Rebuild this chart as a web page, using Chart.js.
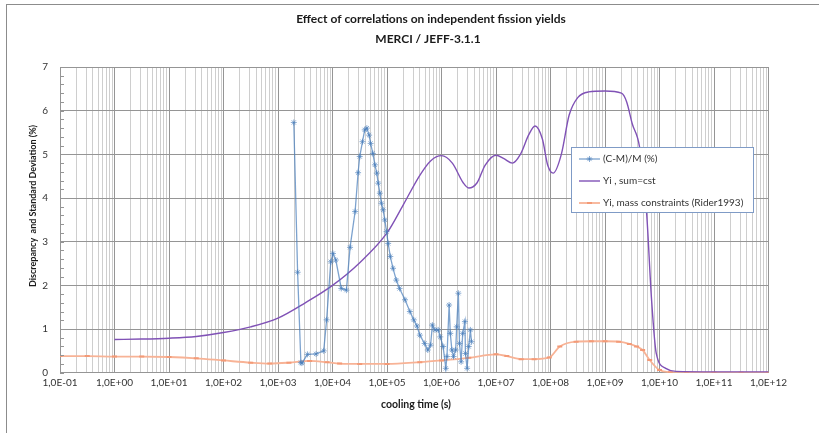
<!DOCTYPE html>
<html>
<head>
<meta charset="utf-8">
<script src="https://cdn.jsdelivr.net/npm/chart.js@4/dist/chart.umd.min.js"></script>
<style>
html,body{margin:0;padding:0;background:#fff;}
canvas{display:block;}
</style>
</head>
<body>
<canvas id="c" width="819" height="433"></canvas>
<script>
// ---- Data ----
const titleLines = ['Effect of correlations on independent fission yields', 'MERCI / JEFF-3.1.1'];
const xAxisTitle = 'cooling time (s)';
const yAxisTitle = 'Discrepancy  and Standard Deviation (%)';
const seriesNames = ['(C-M)/M (%)', 'Yi , sum=cst', 'Yi, mass constraints (Rider1993)'];
const xTickLabels = ['1,0E-01','1,0E+00','1,0E+01','1,0E+02','1,0E+03','1,0E+04','1,0E+05','1,0E+06','1,0E+07','1,0E+08','1,0E+09','1,0E+10','1,0E+11','1,0E+12'];
const yTickValues = [0,1,2,3,4,5,6,7];

const blueX = [1.95e3,2.29e3,2.63e3,2.75e3,3.47e3,5.0e3,6.9e3,7.8e3,9.3e3,1.02e4,1.15e4,1.45e4,1.8e4,2.1e4,2.6e4,2.95e4,3.16e4,3.55e4,3.9e4,4.27e4,4.7e4,5.0e4,5.5e4,6.0e4,6.5e4,6.9e4,7.4e4,7.9e4,8.5e4,9.1e4,9.8e4,1.05e5,1.15e5,1.29e5,1.48e5,1.7e5,2.14e5,2.63e5,3.1e5,3.55e5,4.0e5,4.9e5,5.6e5,6.3e5,6.8e5,7.6e5,8.7e5,9.5e5,1.07e6,1.2e6,1.26e6,1.38e6,1.45e6,1.55e6,1.66e6,1.82e6,1.9e6,2.04e6,2.14e6,2.29e6,2.45e6,2.69e6,2.75e6,2.95e6,3.16e6,3.39e6,3.55e6];
const blueY = [5.73,2.30,0.23,0.22,0.42,0.43,0.50,1.21,2.54,2.73,2.58,1.93,1.89,2.87,3.69,4.58,4.95,5.29,5.56,5.60,5.44,5.25,5.02,4.76,4.57,4.34,4.11,3.88,3.73,3.50,3.23,2.96,2.66,2.39,2.12,1.93,1.67,1.40,1.21,1.07,0.86,0.67,0.52,0.63,1.09,0.98,0.98,0.82,0.60,0.10,0.37,1.55,0.90,0.52,0.37,0.52,1.05,1.82,0.67,0.25,0.90,1.17,0.44,0.10,0.60,0.98,0.71];

const purpleX = [1,3.16,10,31.6,100,316,1000,3160,1e4,3.16e4,1e5,2.0e5,4.0e5,6.3e5,1e6,1.58e6,2.5e6,3.16e6,4.5e6,6.3e6,1e7,1.4e7,2e7,2.8e7,4e7,5.2e7,7.1e7,8.9e7,1.12e8,1.58e8,2.2e8,3.16e8,5e8,1e9,2e9,2.5e9,3.16e9,4.3e9,5.8e9,7.1e9,8.7e9,1.3e10,2e10,1e11,1e12];
const purpleY = [0.76,0.77,0.79,0.83,0.92,1.05,1.25,1.60,2.00,2.52,3.20,3.85,4.52,4.85,4.97,4.80,4.35,4.23,4.35,4.75,4.98,4.90,4.80,5.00,5.45,5.65,5.35,4.75,4.57,5.00,5.90,6.30,6.43,6.45,6.40,6.20,5.70,5.17,3.66,1.73,0.45,0.10,0.03,0.02,0.02];

const orangeX = [0.1,0.316,1,3.16,10,31.6,100,316,708,1585,3800,7940,1.35e4,3.16e4,1e5,4e5,1e6,3.16e6,1e7,1.58e7,2.9e7,5e7,9.5e7,1.48e8,2.95e8,5.6e8,1e9,1.78e9,2.8e9,3.8e9,4.9e9,6.6e9,1e10,1.58e10,3.16e10,1e11,3.16e11,1e12];
const orangeY = [0.38,0.38,0.37,0.37,0.36,0.33,0.28,0.23,0.21,0.23,0.27,0.24,0.21,0.20,0.20,0.24,0.28,0.34,0.42,0.38,0.31,0.31,0.35,0.60,0.71,0.72,0.72,0.71,0.66,0.60,0.52,0.29,0.06,0.01,0,0,0,0];

// ---- Styles ----
const FONT = 'Lato, "Open Sans", sans-serif';
const blueColor = 'rgba(74,126,187,0.72)';
const purpleColor = '#8052b6';
const orangeColor = '#f8b396';
const orangeMarker = '#f39a77';
const majorGrid = '#959595';
const minorGrid = '#cecece';

function pairs(xs, ys){ return xs.map((x,i)=>({x:x, y:ys[i]})); }
function isDecade(v){ const e = Math.round(Math.log10(v)); return Math.abs(v - Math.pow(10,e)) < 1e-6*v; }

Chart.defaults.font.family = FONT;

const decor = {
  id: 'decor',
  beforeDraw(chart){
    const ctx = chart.ctx;
    ctx.save();
    ctx.fillStyle = '#fff';
    ctx.fillRect(0,0,chart.width,chart.height);
    ctx.strokeStyle = '#8c8c8c';
    ctx.lineWidth = 1;
    ctx.strokeRect(6.5,4.5,900,500);
    ctx.restore();
  },
  afterDraw(chart){
    const ctx = chart.ctx;
    const ya = chart.scales.y, xa = chart.scales.x;
    ctx.save();
    // minor y ticks inside plot
    ctx.strokeStyle = majorGrid;
    ctx.lineWidth = 1;
    for (let i = 0; i <= 35; i++) {
      const py = Math.round(ya.getPixelForValue(i*0.2)) + 0.5;
      ctx.beginPath(); ctx.moveTo(xa.left, py); ctx.lineTo(xa.left + 4, py); ctx.stroke();
    }
    // main title
    ctx.fillStyle = '#1a1a1a';
    ctx.textAlign = 'center';
    ctx.textBaseline = 'middle';
    ctx.font = 'bold 12px ' + FONT;
    ctx.fillText(titleLines[0], 431, 19);
    ctx.fillText(titleLines[1], 428, 39);
    // axis titles
    ctx.font = 'bold 10.5px ' + FONT;
    ctx.fillText(xAxisTitle, 416, 405);
    ctx.font = 'bold 9px ' + FONT;
    ctx.save();
    ctx.translate(33, 206);
    ctx.rotate(-Math.PI/2);
    ctx.fillText(yAxisTitle, 0, 0);
    ctx.restore();
    // legend
    const lx = 571.5, ly = 147.5, lw = 182, lh = 65;
    ctx.fillStyle = '#fff';
    ctx.fillRect(lx, ly, lw, lh);
    ctx.strokeStyle = '#7f9bc6';
    ctx.lineWidth = 1;
    ctx.strokeRect(lx, ly, lw, lh);
    const rows = [159, 181, 203];
    const ds = chart.data.datasets;
    rows.forEach((ry, i) => {
      const d = ds[i];
      ctx.strokeStyle = d.borderColor;
      ctx.lineWidth = d.borderWidth;
      ctx.beginPath(); ctx.moveTo(579, ry); ctx.lineTo(600, ry); ctx.stroke();
      if (d.pointRadius > 0) {
        ctx.strokeStyle = d.pointBorderColor; ctx.lineWidth = d.pointBorderWidth;
        ctx.beginPath();
        const r = d.pointRadius;
        if (d.pointStyle === 'line') { ctx.moveTo(589.5 - r, ry); ctx.lineTo(589.5 + r, ry); }
        else {
          ctx.moveTo(589.5 - r, ry); ctx.lineTo(589.5 + r, ry);
          ctx.moveTo(589.5, ry - r); ctx.lineTo(589.5, ry + r);
          ctx.moveTo(589.5 - r*0.7, ry - r*0.7); ctx.lineTo(589.5 + r*0.7, ry + r*0.7);
          ctx.moveTo(589.5 - r*0.7, ry + r*0.7); ctx.lineTo(589.5 + r*0.7, ry - r*0.7);
        }
        ctx.stroke();
      }
      ctx.fillStyle = '#333';
      ctx.font = '10px ' + FONT;
      ctx.textAlign = 'left';
      ctx.textBaseline = 'middle';
      ctx.fillText(seriesNames[i], 603, ry);
    });
    ctx.restore();
  }
};

new Chart(document.getElementById('c'), {
  type: 'line',
  data: {
    datasets: [
      {
        label: seriesNames[0],
        data: pairs(blueX, blueY),
        borderColor: blueColor,
        backgroundColor: blueColor,
        borderWidth: 1.3,
        pointStyle: 'star',
        pointRadius: 3,
        pointBorderColor: blueColor,
        pointBackgroundColor: blueColor,
        pointBorderWidth: 0.9,
        tension: 0,
        fill: false
      },
      {
        label: seriesNames[1],
        data: pairs(purpleX, purpleY),
        borderColor: purpleColor,
        backgroundColor: purpleColor,
        borderWidth: 1.4,
        pointRadius: 0,
        cubicInterpolationMode: 'monotone',
        fill: false
      },
      {
        label: seriesNames[2],
        data: pairs(orangeX, orangeY),
        borderColor: orangeColor,
        backgroundColor: orangeColor,
        borderWidth: 1.8,
        pointStyle: 'line',
        pointRadius: 2.5,
        pointBorderColor: orangeMarker,
        pointBackgroundColor: orangeMarker,
        pointBorderWidth: 2,
        cubicInterpolationMode: 'monotone',
        fill: false
      }
    ]
  },
  options: {
    responsive: false,
    devicePixelRatio: 1,
    animation: false,
    layout: { padding: { top: 67, left: 0, right: 50.5, bottom: 0 } },
    plugins: {
      legend: { display: false },
      title: { display: false },
      tooltip: { enabled: false }
    },
    scales: {
      x: {
        type: 'logarithmic',
        min: 0.1,
        max: 1e12,
        afterBuildTicks(scale) {
          const t = [];
          for (let e = -1; e < 12; e++) {
            for (let m = 1; m <= 9; m++) t.push({ value: m * Math.pow(10, e) });
          }
          t.push({ value: 1e12 });
          scale.ticks = t;
        },
        afterFit(scale) { scale.height = 60.3; },
        grid: {
          drawTicks: false,
          color: (c) => (c.tick && isDecade(c.tick.value)) ? majorGrid : minorGrid,
          lineWidth: 1
        },
        border: { color: majorGrid },
        ticks: {
          autoSkip: false,
          maxRotation: 0,
          minRotation: 0,
          padding: 4,
          color: '#333',
          font: { size: 10, family: FONT },
          callback: (v) => isDecade(v) ? xTickLabels[Math.round(Math.log10(v)) + 1] : ''
        }
      },
      y: {
        type: 'linear',
        min: 0,
        max: 7,
        afterBuildTicks(scale) { scale.ticks = yTickValues.map(v => ({ value: v })); },
        afterFit(scale) { scale.width = 60; },
        grid: { drawTicks: false, color: majorGrid, lineWidth: 1 },
        border: { color: majorGrid },
        ticks: {
          padding: 12,
          color: '#333',
          font: { size: 10, family: FONT }
        }
      }
    }
  },
  plugins: [decor]
});
</script>
</body>
</html>
